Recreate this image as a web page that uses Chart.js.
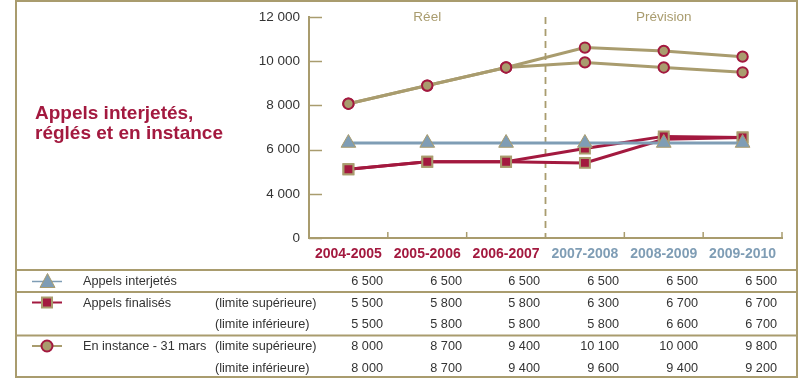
<!DOCTYPE html>
<html lang="fr">
<head>
<meta charset="utf-8">
<script src="https://cdn.jsdelivr.net/npm/chart.js@4"></script>
<style>
  body { margin: 0; background: #fff; font-family: "Liberation Sans", Arial, sans-serif; color: #333; }
  #wrap { position: relative; width: 800px; height: 379px; overflow: hidden; }
  #chart { position: absolute; left: 0; top: 0; }
  #title { position: absolute; left: 35px; top: 103px; font-size: 19px; font-weight: bold; line-height: 20px; color: #a3193f; }
  .cell { position: absolute; font-size: 12.7px; line-height: 16px; white-space: nowrap; color: #333; }
  .num { text-align: right; width: 70px; }
  #deco { position: absolute; left: 0; top: 0; }
</style>
</head>
<body>
<div id="wrap">
  <canvas id="chart" width="800" height="268"></canvas>
  <div id="title">Appels interjetés,<br>réglés et en instance</div>
  <svg id="deco" width="800" height="379"></svg>
</div>
<script>
const categories = ['2004-2005', '2005-2006', '2006-2007', '2007-2008', '2008-2009', '2009-2010'];

// values as they are drawn on the plot
const interjetesPlot = [6300, 6300, 6300, 6300, 6300, 6300];
const finalisesSupPlot = [5110, 5450, 5450, 6050, 6600, 6550];
const finalisesInfPlot = [5110, 5450, 5450, 5400, 6470, 6550];
const instanceSupPlot = [8080, 8900, 9720, 10620, 10470, 10210];
const instanceInfPlot = [8080, 8900, 9720, 9950, 9720, 9500];

// values printed in the table
const interjetes = [6500, 6500, 6500, 6500, 6500, 6500];
const finalisesSup = [5500, 5800, 5800, 6300, 6700, 6700];
const finalisesInf = [5500, 5800, 5800, 5800, 6600, 6700];
const instanceSup = [8000, 8700, 9400, 10100, 10000, 9800];
const instanceInf = [8000, 8700, 9400, 9600, 9400, 9200];

const yTicks = [2000, 4000, 6000, 8000, 10000, 12000]; // axis is broken: bottom tick reads 0

const tan = '#a99c6e';
const red = '#a3193f';
const blue = '#7f9db5';

function fmt(v) {
  return String(v).replace(/\B(?=(\d{3})+(?!\d))/g, ' ');
}

const extras = {
  id: 'extras',
  beforeDatasetsDraw(chart) {
    const ctx = chart.ctx, a = chart.chartArea;
    const x = chart.scales.x, y = chart.scales.y;
    ctx.save();
    ctx.strokeStyle = tan;
    ctx.lineWidth = 1.5;
    // inward ticks on the y axis
    y.ticks.forEach(t => {
      const py = Math.round(y.getPixelForValue(t.value)) + 0.5;
      ctx.beginPath();
      ctx.moveTo(a.left, py);
      ctx.lineTo(a.left + 13, py);
      ctx.stroke();
    });
    // small upward ticks between categories
    for (let i = 1; i <= categories.length; i++) {
      let px = i < categories.length ? (x.getPixelForValue(i - 1) + x.getPixelForValue(i)) / 2 : a.right;
      if (i === 3) continue;
      ctx.beginPath();
      ctx.moveTo(px, a.bottom);
      ctx.lineTo(px, a.bottom - 6);
      ctx.stroke();
    }
    // dashed split between real and forecast
    const split = (x.getPixelForValue(2) + x.getPixelForValue(3)) / 2;
    ctx.setLineDash([7, 5]);
    ctx.lineWidth = 1.8;
    ctx.beginPath();
    ctx.moveTo(split, a.top);
    ctx.lineTo(split, a.bottom);
    ctx.stroke();
    ctx.setLineDash([]);
    ctx.fillStyle = tan;
    ctx.font = '13.5px "Liberation Sans", Arial, sans-serif';
    ctx.textAlign = 'center';
    ctx.textBaseline = 'middle';
    ctx.fillText('Réel', x.getPixelForValue(1), 17);
    ctx.fillText('Prévision', x.getPixelForValue(4), 17);
    ctx.restore();
  }
};

function lineSet(label, data, color, style, fill, border, radius, bw) {
  return {
    label: label,
    data: data,
    borderColor: color,
    borderWidth: 3,
    pointStyle: style,
    pointRadius: radius,
    pointBackgroundColor: fill,
    pointBorderColor: border,
    pointBorderWidth: bw,
    tension: 0
  };
}

new Chart(document.getElementById('chart'), {
  type: 'line',
  data: {
    labels: categories,
    datasets: [
      lineSet('Appels interjetés', interjetesPlot, blue, 'triangle', blue, tan, 8.5, 1),
      lineSet('Appels finalisés (limite supérieure)', finalisesSupPlot, red, 'rect', red, tan, 7, 2),
      lineSet('Appels finalisés (limite inférieure)', finalisesInfPlot, red, 'rect', red, tan, 7, 2),
      lineSet('En instance (limite supérieure)', instanceSupPlot, tan, 'circle', tan, red, 5.2, 2),
      lineSet('En instance (limite inférieure)', instanceInfPlot, tan, 'circle', tan, red, 5.2, 2)
    ]
  },
  options: {
    responsive: false,
    animation: false,
    layout: { padding: { left: 250, right: 18, top: 14, bottom: 0 } },
    plugins: { legend: { display: false }, tooltip: { enabled: false } },
    scales: {
      x: {
        offset: true,
        grid: { display: false, drawTicks: false },
        border: { color: tan, width: 2 },
        ticks: {
          padding: 8,
          font: { family: '"Liberation Sans", Arial, sans-serif', size: 14, weight: 'bold' },
          color: c => c.index < 3 ? red : blue
        },
        afterFit(s) { s.height = 30; }
      },
      y: {
        min: 2000,
        max: 12000,
        afterBuildTicks(s) { s.ticks = yTicks.map(v => ({ value: v })); },
        grid: { display: false, drawTicks: false },
        border: { color: tan, width: 2 },
        ticks: {
          padding: 9,
          font: { family: '"Liberation Sans", Arial, sans-serif', size: 13.5 },
          color: '#333',
          callback: v => v === 2000 ? '0' : fmt(v)
        },
        afterFit(s) { s.width = 59; }
      }
    }
  },
  plugins: [extras]
});

// table below the chart
const wrap = document.getElementById('wrap');
const valueRight = [383, 462, 540, 619, 698, 777];
const rows = [
  { y: 281, label: 'Appels interjetés', limit: '', values: interjetes },
  { y: 302.5, label: 'Appels finalisés', limit: '(limite supérieure)', values: finalisesSup },
  { y: 324, label: '', limit: '(limite inférieure)', values: finalisesInf },
  { y: 346, label: 'En instance - 31 mars', limit: '(limite supérieure)', values: instanceSup },
  { y: 367.5, label: '', limit: '(limite inférieure)', values: instanceInf }
];
function cell(text, left, top, cls) {
  const d = document.createElement('div');
  d.className = 'cell ' + (cls || '');
  d.textContent = text;
  d.style.left = left + 'px';
  d.style.top = (top - 8) + 'px';
  wrap.appendChild(d);
}
rows.forEach(r => {
  if (r.label) cell(r.label, 83, r.y);
  if (r.limit) cell(r.limit, 215, r.y);
  r.values.forEach((v, i) => cell(fmt(v), valueRight[i] - 70, r.y, 'num'));
});

// frame, separators and the little key symbols
const svg = document.getElementById('deco');
svg.innerHTML =
  '<rect x="16" y="1" width="781" height="376" fill="none" stroke="' + tan + '" stroke-width="2"/>' +
  '<line x1="16" y1="270" x2="797" y2="270" stroke="' + tan + '" stroke-width="2"/>' +
  '<line x1="16" y1="292" x2="797" y2="292" stroke="' + tan + '" stroke-width="2"/>' +
  '<line x1="16" y1="335.5" x2="797" y2="335.5" stroke="' + tan + '" stroke-width="2"/>' +
  '<line x1="32" y1="281.5" x2="62" y2="281.5" stroke="' + blue + '" stroke-width="1.5"/>' +
  '<polygon points="47.5,273.5 40,287.5 55,287.5" fill="' + blue + '" stroke="' + tan + '" stroke-width="1"/>' +
  '<line x1="32" y1="302.5" x2="62" y2="302.5" stroke="' + red + '" stroke-width="2"/>' +
  '<rect x="42" y="297.5" width="10" height="10" fill="' + red + '" stroke="' + tan + '" stroke-width="2"/>' +
  '<line x1="32" y1="346" x2="62" y2="346" stroke="' + tan + '" stroke-width="2"/>' +
  '<circle cx="47" cy="346" r="5.5" fill="' + tan + '" stroke="' + red + '" stroke-width="2"/>';
</script>
</body>
</html>
